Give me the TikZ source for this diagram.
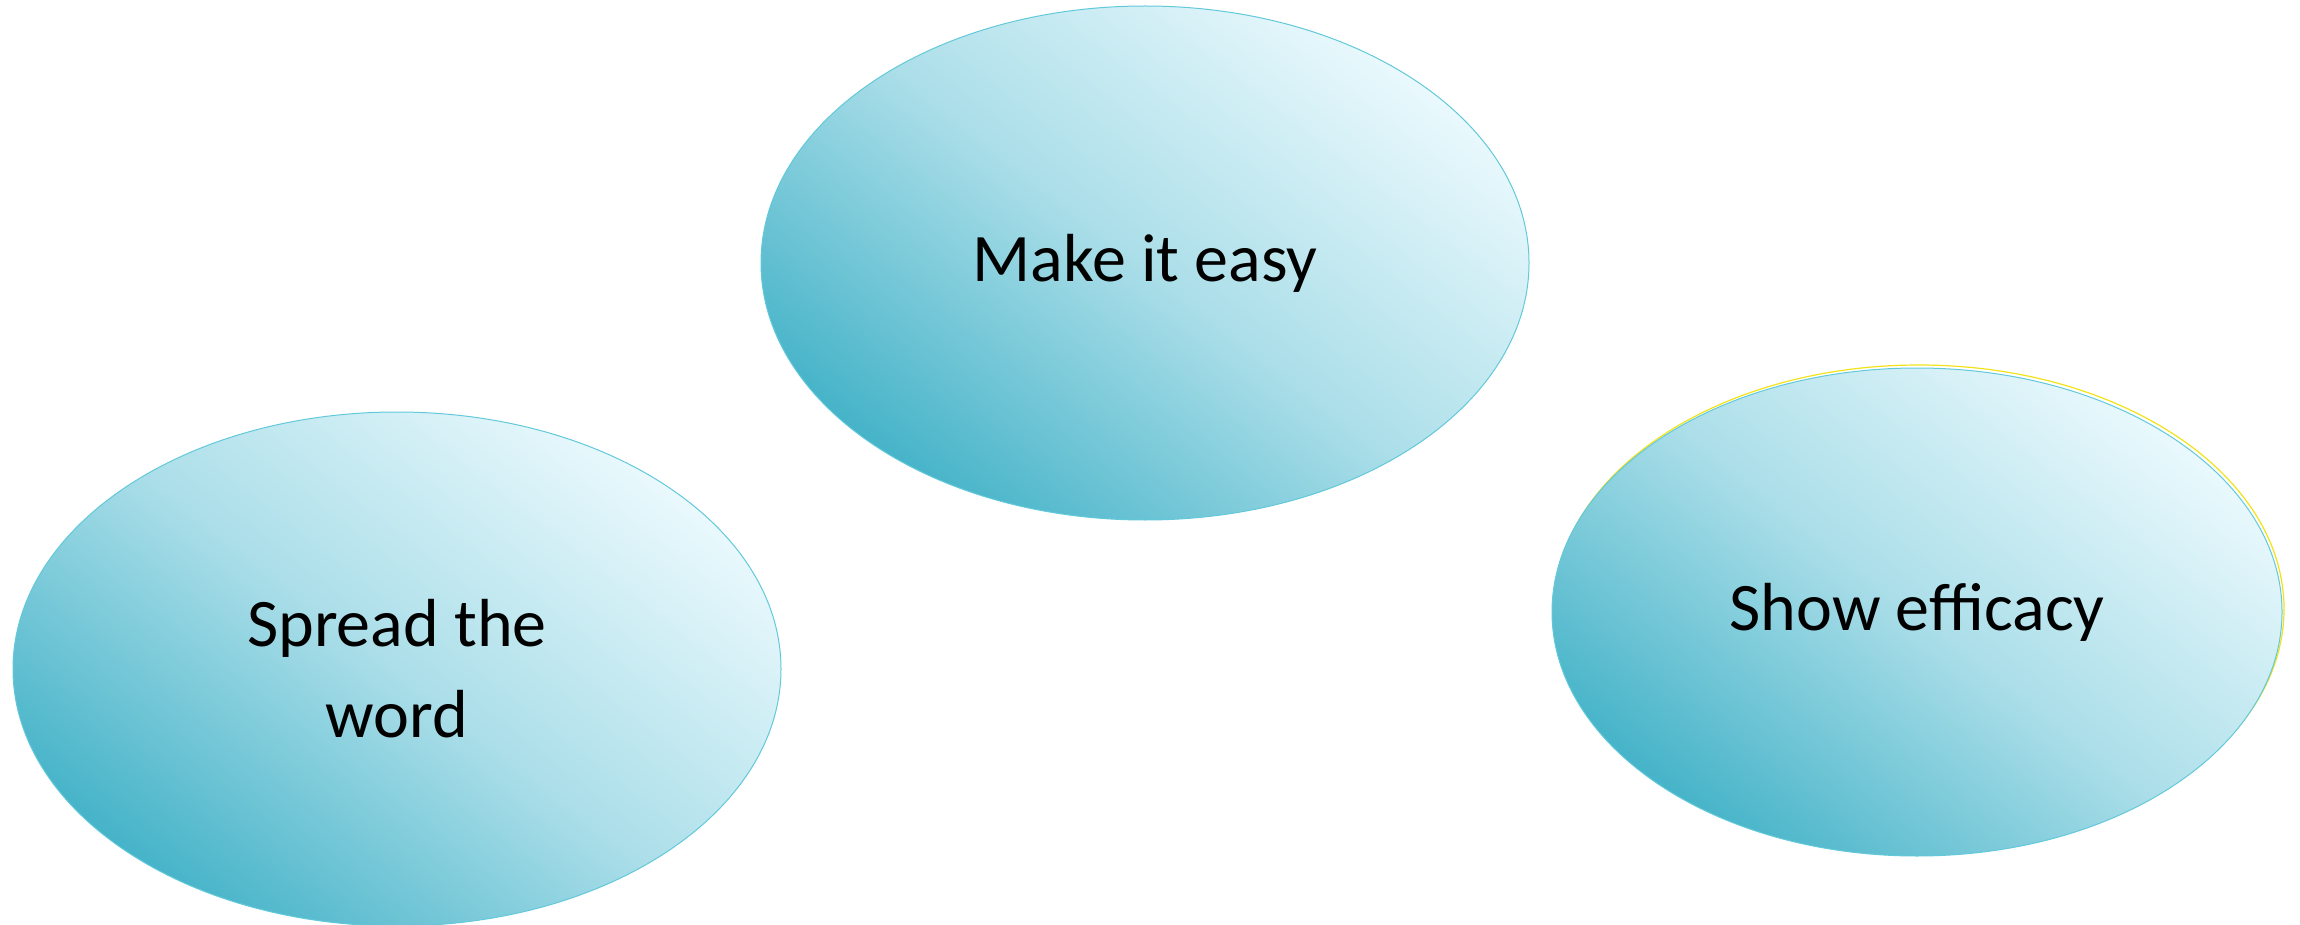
\documentclass[tikz,border=0pt]{standalone}
\usepackage{fontspec}
\setmainfont{Carlito}
\usepackage{xcolor}
\definecolor{bubdark}{HTML}{45B3C8}
\definecolor{bublight}{HTML}{EAF9FD}
\definecolor{bubedge}{HTML}{62C9DA}
\definecolor{bubglow}{HTML}{F2E21A}
\usetikzlibrary{shapes.geometric}

\begin{document}
\begin{tikzpicture}[x=1pt, y=-1pt,
  bubble/.style={ellipse, draw=bubedge, line width=1pt,
                 top color=bublight, bottom color=bubdark,
                 middle color=bublight!62!bubdark, shading angle=-38,
                 minimum width=768pt, minimum height=514pt, inner sep=0pt,
                 align=center, font=\fontsize{68}{91}\selectfont},
  glow/.style={ellipse, draw=bubglow, line width=1.2pt, inner sep=0pt,
               minimum width=730pt, minimum height=488pt}
]
  \useasboundingbox (0,0) rectangle (2300,925);

  \node[glow] (efficacyglow) at (1919,609) {};

  \node[bubble] (easy)   at (1145,263) {Make it easy};
  \node[bubble] (spread) at (397,669)  {Spread the\\word};
  \node[bubble, minimum width=730pt, minimum height=488pt] (efficacy) at (1917,612) {Show efficacy};

\end{tikzpicture}
\end{document}
